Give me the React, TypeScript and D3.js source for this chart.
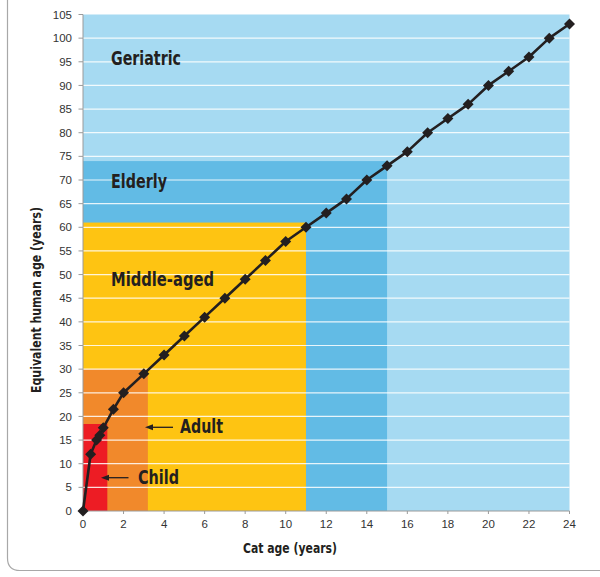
import React from "react";
import * as d3 from "d3";

const catAge = [0, 0.375, 0.67, 0.83, 1, 1.5, 2, 3, 4, 5, 6, 7, 8, 9, 10, 11, 12, 13, 14, 15, 16, 17, 18, 19, 20, 21, 22, 23, 24];
const humanAge = [0, 12, 15, 16, 17.6, 21.5, 25, 29, 33, 37, 41, 45, 49, 53, 57, 60, 63, 66, 70, 73, 76, 80, 83, 86, 90, 93, 96, 100, 103];

const stageNames = ["Geriatric", "Elderly", "Middle-aged", "Adult", "Child"];
const stageMaxCat = [24, 15, 11, 3.2, 1.2];
const stageMaxHuman = [105, 74, 61, 30, 18.4];
const stageColors = ["#a6daf2", "#62bbe5", "#fec412", "#f1892b", "#ed1c24"];

const yTicks = d3.range(0, 106, 5);
const xTicks = d3.range(0, 25, 2);

const W = 600;
const H = 577;

export default function App() {
  const x = d3.scaleLinear().domain([0, 24]).range([83, 569.5]);
  const y = d3.scaleLinear().domain([0, 105]).range([511, 14.5]);
  const pts = catAge.map((c, i) => [c, humanAge[i]] as [number, number]);
  const line = d3.line<[number, number]>().x((d) => x(d[0])).y((d) => y(d[1]));
  const condensed = "'Liberation Sans Narrow', 'DejaVu Sans Condensed', 'Arial Narrow', sans-serif";
  const labelFont = "'Liberation Sans', Arial, Helvetica, sans-serif";
  const ink = "#231f20";

  const labelPos = [
    { x: 111, y: 64.5, w: 70 },
    { x: 111, y: 188, w: 56 },
    { x: 111, y: 286, w: 103 },
    { x: 180, y: 433, w: 43 },
    { x: 138, y: 484, w: 41 },
  ];

  const arrows = [
    { x1: 173, x2: 145, y: 427.3 },
    { x1: 128.5, x2: 101, y: 477.7 },
  ];

  return (
    <svg width={W} height={H} style={{ position: "absolute", left: 0, top: 0 }}>
      <rect x={0} y={0} width={W} height={H} fill="#fff" />
      {/* frame */}
      <path d={`M7.5,0 L7.5,558 Q7.5,570.5 20,570.5 L600,570.5`} fill="none" stroke="#a8a8a8" strokeWidth={1.2} />
      {/* stage areas */}
      {stageNames.map((s, i) => (
        <rect key={s} x={x(0)} y={y(stageMaxHuman[i])} width={x(stageMaxCat[i]) - x(0)} height={y(0) - y(stageMaxHuman[i])} fill={stageColors[i]} />
      ))}
      {/* grid */}
      {yTicks.filter((t) => t > 0 && t < 105).map((t) => (
        <line key={t} x1={x(0)} x2={x(24)} y1={y(t)} y2={y(t)} stroke="#fff" strokeOpacity={0.85} strokeWidth={1.2} />
      ))}
      {/* axes */}
      <line x1={x(0)} x2={x(0)} y1={y(105)} y2={y(0)} stroke="#9a9a9a" strokeWidth={1} />
      <line x1={x(0)} x2={x(24)} y1={y(0)} y2={y(0)} stroke="#9a9a9a" strokeWidth={1} />
      {yTicks.map((t) => (
        <g key={t}>
          <line x1={x(0) - 4.5} x2={x(0)} y1={y(t)} y2={y(t)} stroke="#9a9a9a" strokeWidth={1} />
          <text x={72} y={y(t)} dy="0.36em" textAnchor="end" fontFamily={labelFont} fontSize={11.5} fill="#333">{t}</text>
        </g>
      ))}
      {xTicks.map((t) => (
        <g key={t}>
          <line x1={x(t)} x2={x(t)} y1={y(0)} y2={y(0) + 3} stroke="#9a9a9a" strokeWidth={1} />
          <text x={x(t)} y={528} textAnchor="middle" fontFamily={labelFont} fontSize={11.5} fill="#333">{t}</text>
        </g>
      ))}
      {/* axis titles */}
      <text transform={`translate(41,300) rotate(-90)`} textAnchor="middle" fontFamily={condensed} fontWeight="bold" fontSize={14.5} fill={ink} textLength={186} lengthAdjust="spacingAndGlyphs">Equivalent human age (years)</text>
      <text x={290} y={553} textAnchor="middle" fontFamily={condensed} fontWeight="bold" fontSize={14.5} fill={ink} textLength={94} lengthAdjust="spacingAndGlyphs">Cat age (years)</text>
      {/* stage labels */}
      {stageNames.map((s, i) => (
        <text key={s} x={labelPos[i].x} y={labelPos[i].y} fontFamily={condensed} fontWeight="bold" fontSize={19.5} fill={ink} textLength={labelPos[i].w} lengthAdjust="spacingAndGlyphs">{s}</text>
      ))}
      {/* arrows */}
      {arrows.map((a, i) => (
        <g key={i}>
          <line x1={a.x1} x2={a.x2 + 5} y1={a.y} y2={a.y} stroke={ink} strokeWidth={1.3} />
          <path d={`M${a.x2},${a.y} L${a.x2 + 8},${a.y - 3} L${a.x2 + 8},${a.y + 3} Z`} fill={ink} />
        </g>
      ))}
      {/* line + markers */}
      <path d={line(pts) || ""} fill="none" stroke={ink} strokeWidth={2.6} strokeLinejoin="round" />
      {pts.map((p, i) => (
        <path key={i} transform={`translate(${x(p[0])},${y(p[1])})`} d="M0,-5.5 L5.5,0 L0,5.5 L-5.5,0 Z" fill={ink} />
      ))}
    </svg>
  );
}
